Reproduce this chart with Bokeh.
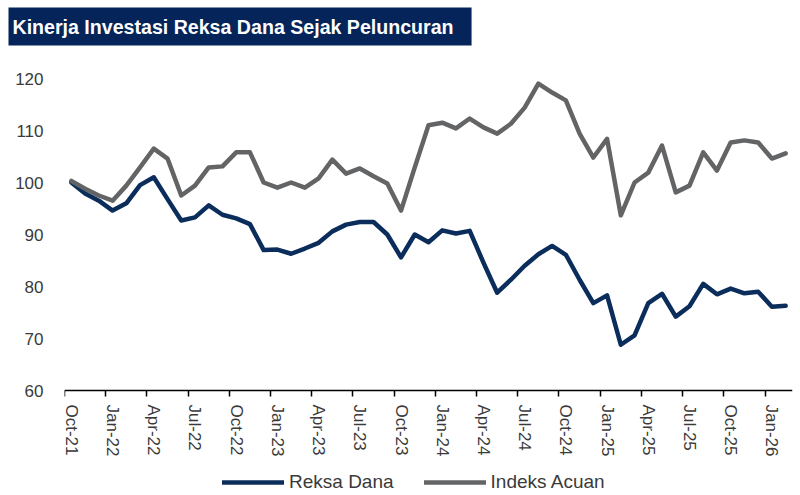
from bokeh.plotting import figure
from bokeh.models import (Range1d, FixedTicker, Legend, LegendItem, ColumnDataSource, Title)
from bokeh.embed import file_html
from bokeh.resources import INLINE

# ---- data (monthly, Oct-21 .. Feb-26) ----
months = ["Oct-21", "Nov-21", "Dec-21", "Jan-22", "Feb-22", "Mar-22", "Apr-22", "May-22", "Jun-22",
          "Jul-22", "Aug-22", "Sep-22", "Oct-22", "Nov-22", "Dec-22", "Jan-23", "Feb-23", "Mar-23",
          "Apr-23", "May-23", "Jun-23", "Jul-23", "Aug-23", "Sep-23", "Oct-23", "Nov-23", "Dec-23",
          "Jan-24", "Feb-24", "Mar-24", "Apr-24", "May-24", "Jun-24", "Jul-24", "Aug-24", "Sep-24",
          "Oct-24", "Nov-24", "Dec-24", "Jan-25", "Feb-25", "Mar-25", "Apr-25", "May-25", "Jun-25",
          "Jul-25", "Aug-25", "Sep-25", "Oct-25", "Nov-25", "Dec-25", "Jan-26", "Feb-26"]

reksa_dana = [100.0, 97.9, 96.5, 94.6, 96.0, 99.5, 101.0, 96.8, 92.7, 93.3,
              95.6, 93.8, 93.1, 92.0, 87.0, 87.1, 86.3, 87.3, 88.4, 90.6,
              91.9, 92.4, 92.4, 90.0, 85.6, 90.0, 88.5, 90.8, 90.2, 90.7,
              84.6, 78.8, 81.3, 84.0, 86.2, 87.8, 86.1, 81.3, 76.8, 78.3,
              68.8, 70.6, 76.8, 78.6, 74.2, 76.2, 80.5, 78.5, 79.6, 78.7,
              79.0, 76.1, 76.3]

indeks_acuan = [100.3, 98.8, 97.5, 96.5, 99.4, 102.9, 106.5, 104.6, 97.5, 99.4,
                102.9, 103.1, 105.8, 105.8, 100.0, 99.0, 100.0, 99.0, 100.8, 104.4,
                101.7, 102.7, 101.2, 99.8, 94.6, 102.9, 111.0, 111.5, 110.4, 112.3,
                110.6, 109.4, 111.3, 114.4, 119.0, 117.3, 115.8, 109.4, 104.8, 108.4,
                93.7, 100.0, 101.9, 107.1, 98.1, 99.4, 105.8, 102.3, 107.7, 108.1,
                107.7, 104.6, 105.6]

y_ticks = [60, 70, 80, 90, 100, 110, 120]
series_names = ["Reksa Dana", "Indeks Acuan"]
title_text = "Kinerja Investasi Reksa Dana Sejak Peluncuran"

NAVY = "#0b2d5c"
GREY = "#636466"
TITLE_BG = "#04245a"
TXT = "#3a3a3a"
FONT = "Liberation Sans, Arial, sans-serif"

Y_MIN, Y_MAX = 60, 120
# the frame continues below the value axis to hold the tick labels and the legend
Y_FLOOR = Y_MIN - 105 / 5.2

idx = list(range(len(months)))
src = ColumnDataSource(dict(x=idx, rd=reksa_dana, ia=indeks_acuan))

p = figure(frame_width=728, frame_height=417, output_backend="svg", toolbar_location=None,
           title=None,
           x_range=Range1d(-0.5, len(months) - 0.5), y_range=Range1d(Y_FLOOR, Y_MAX),
           min_border_left=64, min_border_right=8, min_border_top=78, min_border_bottom=0,
           x_axis_location="below", y_axis_location="left")
p.background_fill_color = "white"
p.border_fill_color = "white"
p.outline_line_color = None
p.grid.visible = False

# spacer between frame and title bar (added first -> nearest the frame)
spacer = Title(text=" ", text_font=FONT, text_font_size="14px", text_color="white")
p.add_layout(spacer, "above")

# title bar
title = Title(text=title_text, text_color="white", text_font=FONT, text_font_style="bold",
              text_font_size="19.6px", background_fill_color=TITLE_BG, align="left",
              offset=-56, padding=dict(left=4, right=18, top=8, bottom=8))
p.add_layout(title, "above")

r1 = p.line("x", "rd", source=src, line_color=NAVY, line_width=4.5, line_join="round", line_cap="round")
r2 = p.line("x", "ia", source=src, line_color=GREY, line_width=4.5, line_join="round", line_cap="round")

# x axis fixed at y=60: labels at category centres, tick marks on category boundaries
label_pos = idx[0::3]
xa = p.xaxis[0]
xa.fixed_location = Y_MIN
xa.bounds = (-0.5, len(months) - 0.5)
xa.axis_label = None
xa.ticker = FixedTicker(ticks=label_pos, minor_ticks=[i - 0.5 for i in label_pos])
xa.major_label_overrides = {i: months[i] for i in label_pos}
xa.major_label_orientation = "vertical"
xa.major_tick_out = 0
xa.major_tick_in = 0
xa.minor_tick_out = 6
xa.minor_tick_in = 0
xa.minor_tick_line_color = "black"
xa.minor_tick_line_width = 1.5
xa.axis_line_color = "black"
xa.axis_line_width = 1.5
xa.major_label_text_font = FONT
xa.major_label_text_font_size = "17px"
xa.major_label_text_color = TXT
xa.major_label_standoff = 8

ya = p.yaxis[0]
ya.axis_label = None
ya.ticker = FixedTicker(ticks=y_ticks)
ya.axis_line_color = None
ya.major_tick_line_color = None
ya.minor_tick_line_color = None
ya.major_tick_out = 0
ya.major_tick_in = 0
ya.major_label_text_font = FONT
ya.major_label_text_font_size = "17px"
ya.major_label_text_color = TXT
ya.major_label_standoff = 21

legend = Legend(items=[LegendItem(label=series_names[0], renderers=[r1]),
                       LegendItem(label=series_names[1], renderers=[r2])],
                orientation="horizontal", location=(158, 2))
legend.border_line_color = None
legend.background_fill_alpha = 0
legend.glyph_width = 62
legend.glyph_height = 18
legend.label_text_font = FONT
legend.label_text_font_size = "19px"
legend.label_text_color = TXT
legend.spacing = 30
legend.label_standoff = 5
legend.padding = 0
legend.margin = 0
p.add_layout(legend, "center")

open("out.html", "w").write(file_html(p, INLINE))
